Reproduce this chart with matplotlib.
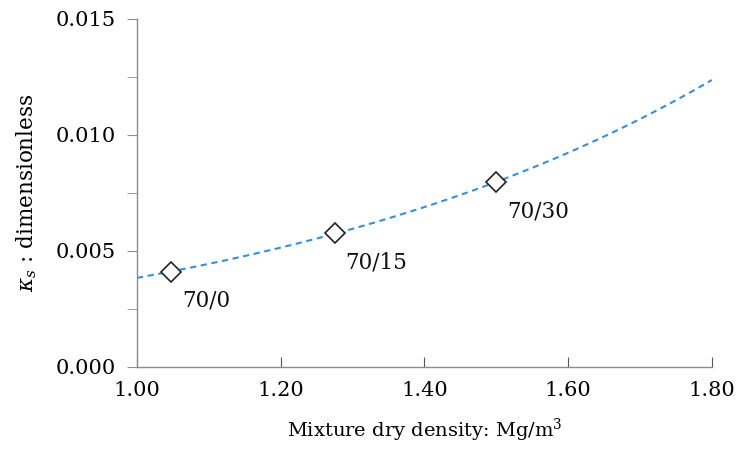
import numpy as np
import matplotlib
matplotlib.use("Agg")
import matplotlib.pyplot as plt
from matplotlib.ticker import MultipleLocator, FormatStrFormatter

plt.rcParams['font.family'] = ['DejaVu Serif']
plt.rcParams['mathtext.fontset'] = 'dejavuserif'

# data
density = [1.048, 1.275, 1.500]
kappa = [0.00411, 0.00576, 0.00796]
labels = ['70/0', '70/15', '70/30']

# exponential trendline fitted to the points
b, ln_a = np.polyfit(density, np.log(kappa), 1)
xf = np.linspace(1.0, 1.8, 200)
yf = np.exp(ln_a) * np.exp(b * xf)

fig = plt.figure(figsize=(7.4, 4.61), dpi=100)
ax = fig.add_axes([0.185, 0.204, 0.777, 0.755])

ax.plot(xf, yf, ls=(0, (3, 2.2)), color='#3590dc', lw=1.5)
ax.plot(density, kappa, ls='none', marker='D', ms=10, mfc='white',
        mec='#222222', mew=1.2)

for x, y, t in zip(density, kappa, labels):
    ax.annotate(t, (x, y), xytext=(8, -13), textcoords='offset points',
                ha='left', va='top', fontsize=15.5, color='#111111')

ax.set_xlim(1.0, 1.8)
ax.set_ylim(0, 0.015)
ax.xaxis.set_major_locator(MultipleLocator(0.2))
ax.xaxis.set_major_formatter(FormatStrFormatter('%.2f'))
ax.yaxis.set_major_locator(MultipleLocator(0.005))
ax.yaxis.set_minor_locator(MultipleLocator(0.0025))
ax.yaxis.set_major_formatter(FormatStrFormatter('%.3f'))

for s in ['top', 'right']:
    ax.spines[s].set_visible(False)
for s in ['left', 'bottom']:
    ax.spines[s].set_color('#8c8c8c')
    ax.spines[s].set_linewidth(1.0)

ax.tick_params(axis='y', which='both', direction='out', length=7,
               color='#8c8c8c', labelsize=15, pad=8)
ax.tick_params(axis='x', direction='in', length=7, color='#555555',
               labelsize=15, pad=10)

ax.set_xlabel('Mixture dry density: Mg/m$^3$', fontsize=14, labelpad=12)
ax.set_ylabel(r'$\kappa_s$ : dimensionless', fontsize=15.5, labelpad=12)

fig.savefig('out.png', dpi=100)
